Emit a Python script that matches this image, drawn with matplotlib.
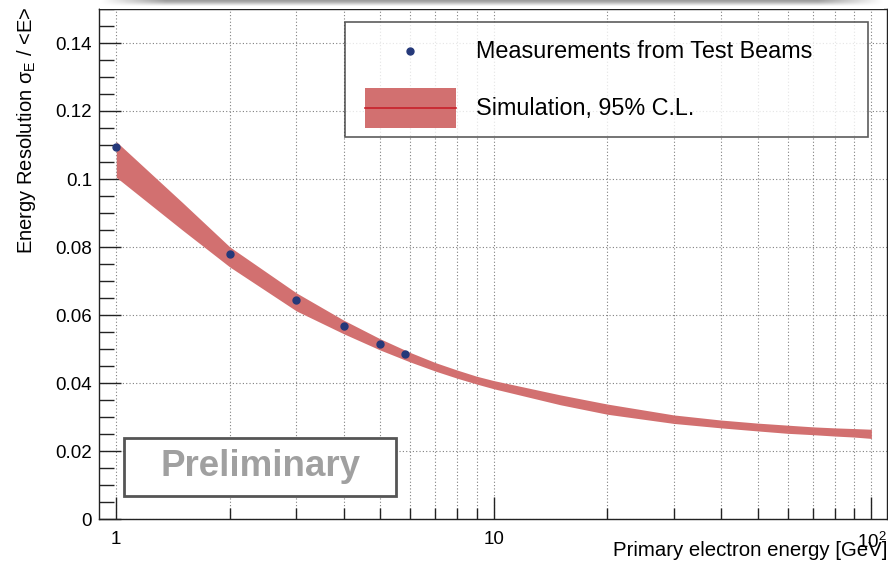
import numpy as np
import matplotlib
matplotlib.use("Agg")
import matplotlib.pyplot as plt
from matplotlib.lines import Line2D
from matplotlib.patches import Patch, Rectangle
from matplotlib.legend_handler import HandlerBase
from matplotlib.ticker import FixedLocator, FuncFormatter, MultipleLocator

plt.rcParams['font.family'] = ['Liberation Sans', 'DejaVu Sans']
plt.rcParams['mathtext.fontset'] = 'custom'
plt.rcParams['mathtext.rm'] = 'Liberation Sans'
plt.rcParams['mathtext.it'] = 'Liberation Sans:italic'

# test beam measurements
beam_energy = [1, 2, 3, 4, 5, 5.8]
resolution = [0.1094, 0.0779, 0.0643, 0.0569, 0.0514, 0.0484]
resolution_err = [0.0009, 0.0004, 0.0004, 0.0004, 0.0004, 0.0004]

# simulation, 95% C.L. band
sim_energy = [1, 1.5, 2, 3, 4, 5, 6, 7, 8, 9, 10, 15, 20, 30, 40, 50, 60, 70, 80, 90, 100]
sim_upper = [0.1110, 0.0930, 0.0800, 0.0665, 0.0585, 0.0530, 0.0490, 0.0460, 0.0438,
             0.0420, 0.0407, 0.0365, 0.0338, 0.0306, 0.0291, 0.0282, 0.0276, 0.0271,
             0.0268, 0.0266, 0.0264]
sim_lower = [0.1005, 0.0849, 0.0741, 0.0612, 0.0545, 0.0497, 0.0462, 0.0435, 0.0414,
             0.0397, 0.0383, 0.0336, 0.0308, 0.0281, 0.0268, 0.0259, 0.0252, 0.0248,
             0.0244, 0.0241, 0.0237]

W, H = 888, 564
fig = plt.figure(figsize=(W / 100, H / 100), dpi=100)
ax = fig.add_axes([99 / W, 45 / H, 788 / W, 510 / H])

band_color = '#d27070'
line_color = '#c8202a'
point_color = '#25397a'
ax.fill_between(sim_energy, sim_lower, sim_upper, color=band_color, lw=0, zorder=2)
ax.errorbar(beam_energy, resolution, yerr=resolution_err, fmt='o', ms=5,
            color=point_color, ecolor=point_color, elinewidth=1.2, capsize=0, zorder=4)

ax.set_xscale('log')
ax.set_xlim(0.9, 110)
ax.set_ylim(0, 0.15)

# x ticks: decades labelled, minors at 2..9
ax.xaxis.set_major_locator(FixedLocator([1, 10, 100]))
minors = [m * d for d in (1, 10) for m in range(2, 10)]
ax.xaxis.set_minor_locator(FixedLocator(minors))
ax.xaxis.set_major_formatter(FuncFormatter(
    lambda v, p: {1: '1', 10: '10', 100: r'$\mathregular{10^{2}}$'}.get(int(round(v)), '')))
ax.xaxis.set_minor_formatter(FuncFormatter(lambda v, p: ''))

ax.yaxis.set_major_locator(MultipleLocator(0.02))
ax.yaxis.set_minor_locator(MultipleLocator(0.005))
ax.yaxis.set_major_formatter(FuncFormatter(lambda v, p: '0' if abs(v) < 1e-9 else ('%g' % round(v, 3))))

ax.tick_params(axis='both', which='both', direction='in', color='#222222', width=1.0,
               labelsize=13.5, top=False, right=False)
ax.tick_params(axis='x', which='major', length=16, pad=9)
ax.tick_params(axis='x', which='minor', length=8)
ax.tick_params(axis='y', which='major', length=16, pad=5)
ax.tick_params(axis='y', which='minor', length=11)

ax.grid(True, which='major', axis='both', ls=(0, (1, 2)), color='#808080', lw=0.8)
ax.grid(True, which='minor', axis='x', ls=(0, (1, 2)), color='#808080', lw=0.8)
ax.set_axisbelow(True)
for s in ax.spines.values():
    s.set_color('#222222')
    s.set_linewidth(1.0)


class BandHandler(HandlerBase):
    """Filled box with the central line, inset from the left of the handle box."""
    def create_artists(self, legend, orig_handle, xdescent, ydescent, width, height,
                       fontsize, trans):
        inset = 0.105 * width
        rect = Rectangle((-xdescent + inset, -ydescent), width - inset, height,
                         facecolor=band_color, lw=0, transform=trans)
        line = Line2D([-xdescent + inset, -xdescent + width],
                      [-ydescent + height / 2] * 2, color=line_color, lw=1.2, transform=trans)
        return [rect, line]


class PointHandler(HandlerBase):
    def create_artists(self, legend, orig_handle, xdescent, ydescent, width, height,
                       fontsize, trans):
        cx = -xdescent + 0.105 * width + (width - 0.105 * width) / 2
        pt = Line2D([cx], [-ydescent + height / 2], marker='o', ls='none', ms=5,
                    color=point_color, transform=trans)
        return [pt]


meas_handle = Line2D([], [], marker='o', ls='none', color=point_color)
band_handle = Patch(facecolor=band_color)
leg = ax.legend([meas_handle, band_handle],
                ['Measurements from Test Beams', 'Simulation, 95% C.L.'],
                handler_map={Line2D: PointHandler(), Patch: BandHandler()},
                loc='upper left', bbox_to_anchor=(0.312, 0.9745, 0.664, 0.0), mode='expand',
                fontsize=16.8, frameon=True, fancybox=False, borderpad=0.39,
                labelspacing=0.70, handlelength=4.38, handleheight=2.27,
                handletextpad=0.86, borderaxespad=0)
leg.get_frame().set_edgecolor('#333333')
leg.get_frame().set_linewidth(1.2)
leg.set_zorder(5)

# preliminary stamp
ax.add_patch(Rectangle(((124 - 99) / 788, (519 - 496) / 510),
                       (396 - 124) / 788, (496 - 438) / 510, transform=ax.transAxes,
                       facecolor='white', edgecolor='#555555', lw=2.0, zorder=6))
ax.text((261 - 99) / 788, (519 - 467) / 510, 'Preliminary', transform=ax.transAxes,
        ha='center', va='center', fontsize=26.5, fontweight='bold', color='#a0a0a0', zorder=7)

# axis titles, ROOT style
fig.text(887 / W, 4 / H, 'Primary electron energy [GeV]', ha='right', va='bottom', fontsize=14.7)
fig.text(26 / W, 1 - 7 / H, r'Energy Resolution σ$_{\mathregular{E}}$ / <E>',
         rotation=90, ha='center', va='top', fontsize=14.5)

# slide shadow along the top edge
prof = np.array([0.62, 0.66, 0.72, 0.80, 0.88, 0.95, 1.0, 1.0, 1.0])
fade = np.clip(np.linspace(0, 12, 400), 0, 1)
fade = np.minimum(fade, fade[::-1])
grad = 1 - (1 - prof[:, None]) * fade[None, :]
sh = fig.add_axes([100 / W, 1 - 9 / H, 783 / W, 9 / H])
sh.imshow(grad, cmap='gray', vmin=0, vmax=1, aspect='auto', interpolation='bilinear')
sh.axis('off')

fig.savefig('out.png', dpi=100)
